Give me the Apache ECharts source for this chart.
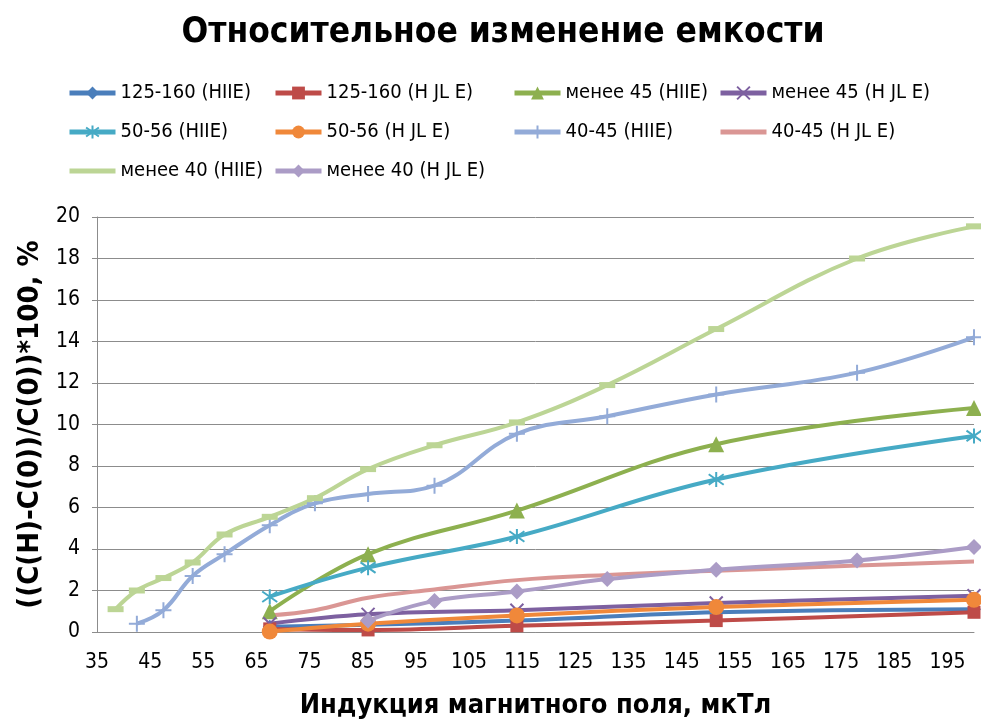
<!DOCTYPE html>
<html><head><meta charset="utf-8">
<script src="https://cdn.jsdelivr.net/npm/echarts@6/dist/echarts.min.js"></script>
<style>html,body{margin:0;padding:0;background:#fff}#c{width:981px;height:720px}</style>
</head><body><div id="c"></div>
<script>
const titleText = 'Относительное изменение емкости';
const xAxisName = 'Индукция магнитного поля, мкТл';
const yAxisName = '((C(H)-C(0))/C(0))*100, %';

const names = [
  '125-160 (HIIE)', '125-160 (H JL E)', 'менее 45 (HIIE)', 'менее 45 (H JL E)',
  '50-56 (HIIE)', '50-56 (H JL E)', '40-45 (HIIE)', '40-45 (H JL E)',
  'менее 40 (HIIE)', 'менее 40 (H JL E)'
];

const d125_HIIE   = [[67.5,0.25],[86,0.35],[114,0.55],[151.5,0.95],[200,1.1]];
const d125_HJLE   = [[67.5,0.15],[86,0.1],[114,0.3],[151.5,0.55],[200,0.95]];
const d45_HIIE    = [[67.5,1.0],[86,3.75],[114,5.85],[151.5,9.05],[200,10.8]];
const d45_HJLE    = [[67.5,0.4],[86,0.85],[114,1.05],[151.5,1.4],[200,1.75]];
const d5056_HIIE  = [[67.5,1.7],[86,3.1],[114,4.6],[151.5,7.35],[200,9.45]];
const d5056_HJLE  = [[67.5,0.02],[86,0.4],[114,0.8],[151.5,1.2],[200,1.55]];
const d4045_HIIE  = [[42.5,0.4],[47.5,1.05],[53,2.7],[59,3.75],[67.5,5.15],[76,6.2],[86,6.65],[98.5,7.05],[114,9.55],[131,10.4],[151.5,11.45],[178,12.5],[200,14.2]];
const d4045_HJLE  = [[67.5,0.8],[76,1.05],[86,1.65],[98.5,2.05],[114,2.5],[131,2.75],[151.5,2.95],[178,3.2],[200,3.4]];
const d40_HIIE    = [[38.5,1.1],[42.5,2.0],[47.5,2.6],[53,3.35],[59,4.7],[67.5,5.55],[76,6.45],[86,7.85],[98.5,9.0],[114,10.1],[131,11.9],[151.5,14.6],[178,18.0],[200,19.55]];
const d40_HJLE    = [[86,0.55],[98.5,1.5],[114,1.95],[131,2.55],[151.5,3.0],[178,3.45],[200,4.1]];

const xTicks = {min: 35, max: 200, step: 10};
const yTicks = {min: 0, max: 20, step: 2};

const FONT = '"Liberation Sans Narrow","DejaVu Sans Condensed","Open Sans",sans-serif';

const X_PATH = 'path://M0,0L10,10M10,0L0,10';
const STAR_PATH = 'path://M5,0L5,10M0,1.5L10,8.5M10,1.5L0,8.5';
const PLUS_PATH = 'path://M5,0L5,10M0,5L10,5';
const BAR_ICON = 'path://M0,0L46,0L46,5L0,5Z';

const styles = [
  {data: d125_HIIE, color: '#4A7EBB', symbol: 'diamond', size: 14},
  {data: d125_HJLE, color: '#BE4B48', symbol: 'rect', size: 13},
  {data: d45_HIIE, color: '#8DB04F', symbol: 'triangle', size: 16},
  {data: d45_HJLE, color: '#7D60A0', symbol: X_PATH, size: 13, stroke: true},
  {data: d5056_HIIE, color: '#46AAC5', symbol: STAR_PATH, size: 15, stroke: true},
  {data: d5056_HJLE, color: '#F0883A', symbol: 'circle', size: 16},
  {data: d4045_HIIE, color: '#93ABD8', symbol: PLUS_PATH, size: 16, stroke: true},
  {data: d4045_HJLE, color: '#DA9694', symbol: 'none', size: 0, barIcon: true},
  {data: d40_HIIE, color: '#BCD595', symbol: 'rect', size: [16,6], barIcon: true},
  {data: d40_HJLE, color: '#AB9CC6', symbol: 'diamond', size: 16}
];

const series = styles.map((s, i) => ({
  name: names[i],
  type: 'line',
  data: s.data,
  smooth: 0.4,
  symbol: s.symbol,
  symbolSize: s.size,
  showSymbol: s.symbol !== 'none',
  lineStyle: {color: s.color, width: 4},
  itemStyle: s.stroke ? {color: s.color, borderColor: s.color, borderWidth: 2} : {color: s.color, borderWidth: 0},
  emphasis: {disabled: true},
  z: 2
}));

function legendItem(i) {
  return styles[i].barIcon ? {name: names[i], icon: BAR_ICON} : {name: names[i]};
}

const legendBase = {
  orient: 'vertical', itemWidth: 46, itemHeight: 16, itemGap: 19, padding: 0,
  symbolKeepAspect: true,
  lineStyle: {width: 5},
  textStyle: {fontFamily: FONT, fontSize: 20, color: '#000'},
  selectedMode: false
};

const chart = echarts.init(document.getElementById('c'), null, {renderer: 'canvas'});
chart.setOption({
  animation: false,
  backgroundColor: '#fff',
  title: {text: titleText, left: 498, textAlign: 'center', top: 10,
    textStyle: {fontFamily: FONT, fontWeight: 'bold', fontSize: 35, color: '#000'}},
  legend: [
    Object.assign({left: 67, top: 83, data: [0, 4, 8].map(legendItem)}, legendBase),
    Object.assign({left: 273, top: 83, data: [1, 5, 9].map(legendItem)}, legendBase),
    Object.assign({left: 512, top: 83, data: [2, 6].map(legendItem)}, legendBase),
    Object.assign({left: 718, top: 83, data: [3, 7].map(legendItem)}, legendBase)
  ],
  grid: {left: 97, right: 7, top: 217, bottom: 88, containLabel: false, outerBoundsMode: 'none'},
  xAxis: {
    type: 'value', min: xTicks.min, max: xTicks.max, interval: xTicks.step,
    name: xAxisName, nameLocation: 'middle', nameGap: 60,
    nameTextStyle: {fontFamily: FONT, fontWeight: 'bold', fontSize: 27, color: '#000'},
    axisLine: {show: true, lineStyle: {color: '#8C8C8C', width: 1}},
    axisTick: {show: false},
    axisLabel: {showMaxLabel: false, fontFamily: FONT, fontSize: 21, color: '#000', margin: 20},
    splitLine: {show: false}
  },
  yAxis: {
    type: 'value', min: yTicks.min, max: yTicks.max, interval: yTicks.step,
    name: yAxisName, nameLocation: 'middle', nameGap: 52, nameRotate: 90,
    nameTextStyle: {fontFamily: FONT, fontWeight: 'bold', fontSize: 29, color: '#000'},
    axisLine: {show: true, lineStyle: {color: '#8C8C8C', width: 1}},
    axisTick: {show: true, inside: false, length: 5, lineStyle: {color: '#8C8C8C'}},
    axisLabel: {fontFamily: FONT, fontSize: 21, color: '#000', margin: 17},
    splitLine: {show: true, lineStyle: {color: '#8C8C8C', width: 1}}
  },
  series: series
});
</script>
</body></html>
